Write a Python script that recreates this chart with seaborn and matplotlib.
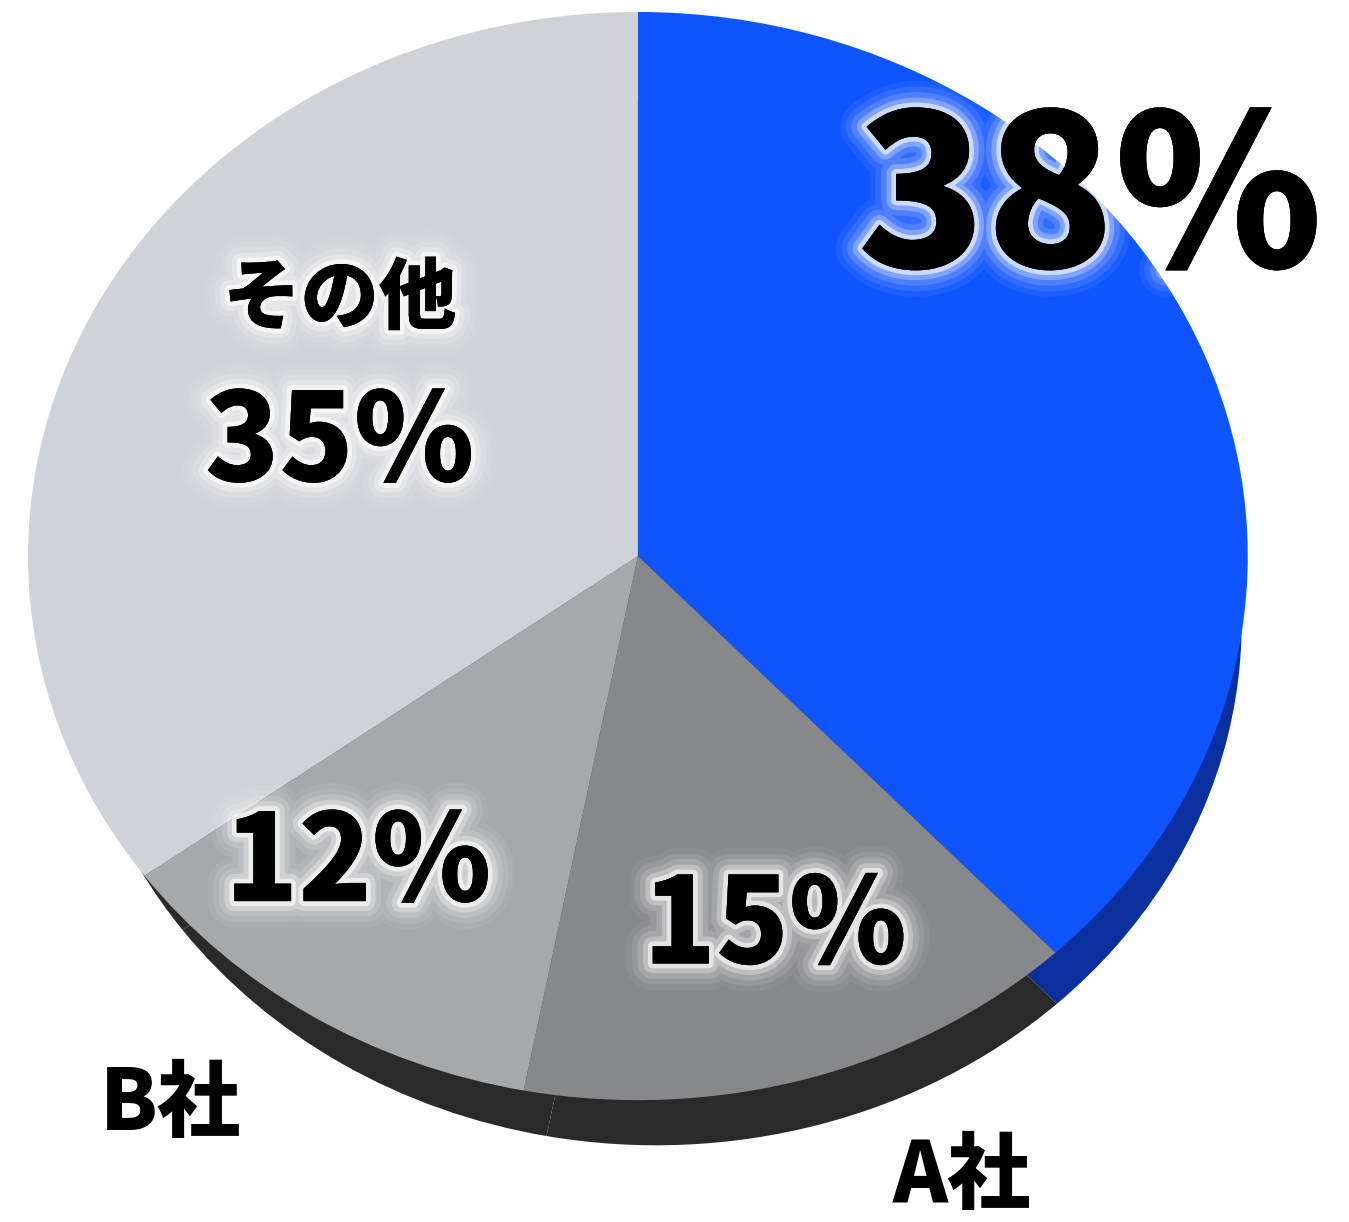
import matplotlib
matplotlib.use("Agg")
import matplotlib.pyplot as plt
import matplotlib.patheffects as pe
import seaborn as sns

# slices, clockwise from 12 o'clock
names = ["", "A社", "B社", "その他"]
shares = [38, 15, 12, 35]
pct_labels = ["38%", "15%", "12%", "35%"]
top_colors = ["#0f55ff", "#86888b", "#a6a9ac", "#cfd2d6"]
side_colors = ["#0a2f9e", "#2a2a2a", "#2a2a2a", "#2a2a2a"]

sns.set_theme(style="white")
plt.rcParams["font.family"] = ["Noto Sans CJK JP", "DejaVu Sans"]

fig = plt.figure(figsize=(13.49, 12.22), dpi=100)
ax = fig.add_axes([0, 0, 1, 1])

# side of the disc: slightly smaller pie pushed down, so only the lower rim shows
ax.pie(shares, colors=side_colors, startangle=90, counterclock=False,
       center=(0.03, -0.123), radius=0.96,
       wedgeprops=dict(linewidth=0))
# top face
ax.pie(shares, colors=top_colors, startangle=90, counterclock=False,
       center=(0, 0), radius=1.0,
       wedgeprops=dict(linewidth=0))

ax.set_aspect("auto")
ax.set_xlim(-1.046, 1.166)
ax.set_ylim(-1.224, 1.022)
ax.axis("off")

glow = [pe.withStroke(linewidth=38, foreground="white", alpha=0.06),
        pe.withStroke(linewidth=30, foreground="white", alpha=0.09),
        pe.withStroke(linewidth=22, foreground="white", alpha=0.14),
        pe.withStroke(linewidth=14, foreground="white", alpha=0.28),
        pe.withStroke(linewidth=7, foreground="white", alpha=0.6),
        pe.Normal()]

txt = dict(ha="center", va="center", color="black", fontweight="black")

ax.text(0.741, 0.645, pct_labels[0], fontsize=152, path_effects=glow, **txt)
ax.text(0.225, -0.684, pct_labels[1], fontsize=86, path_effects=glow, **txt)
ax.text(-0.459, -0.568, pct_labels[2], fontsize=87, path_effects=glow, **txt)
ax.text(-0.489, 0.204, pct_labels[3], fontsize=88, path_effects=glow, **txt)
ax.text(-0.489, 0.471, names[3], fontsize=56, path_effects=glow, **txt)

ax.text(-0.767, -1.009, names[2], fontsize=60, **txt)
ax.text(0.531, -1.140, names[1], fontsize=60, **txt)

fig.savefig("out.png", dpi=100, facecolor="white")
